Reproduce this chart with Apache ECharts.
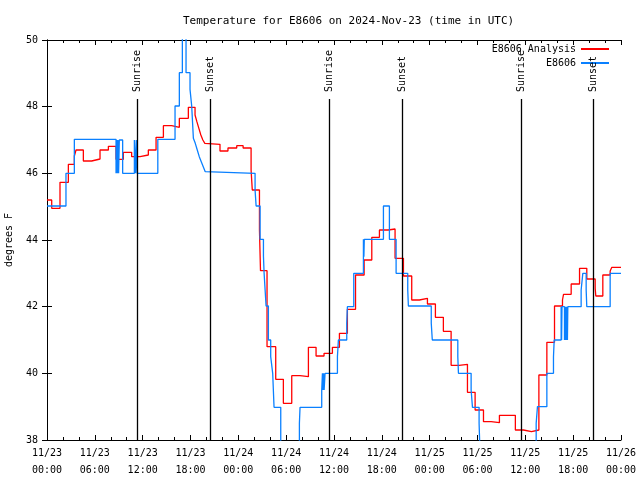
<!DOCTYPE html>
<html>
<head>
<meta charset="utf-8">
<script src="https://cdn.jsdelivr.net/npm/echarts@6/dist/echarts.min.js"></script>
<style>html,body{margin:0;padding:0;background:#fff;}#c{width:640px;height:480px;}</style>
</head>
<body>
<div id="c"></div>
<script>
// Hours since 2024-11-23 00:00 UTC
const analysisHours = [0,0.59,1.63,2.68,3.43,3.64,4.56,5.6,6.65,7.7,8.66,9.58,10.62,11.67,12.71,13.68,14.6,15.64,16.6,17.73,18.57,18.8,19.05,19.3,19.55,19.8,20.03,21.7,22.7,23.8,24.6,25.6,25.75,26.65,26.78,27.6,28.69,29.65,30.7,31.74,32.79,33.75,34.75,35.8,36.68,37.68,38.7,39.78,40.74,41.7,42.8,43.66,44.71,45.75,46.71,47.72,48.72,49.72,50.69,51.69,52.74,53.7,54.75,55.71,56.75,58.75,59.77,60.77,61.7,62.7,63.66,64.66,64.79,65.75,66.8,67.71,68.76,68.84,69.72,70.64,70.85,72];
const analysisTemps = [45.2,44.95,45.73,46.27,46.52,46.7,46.37,46.43,46.7,46.81,46.42,46.63,46.5,46.55,46.7,47.08,47.43,47.38,47.65,47.98,47.75,47.55,47.35,47.15,47.0,46.9,46.87,46.67,46.76,46.83,46.76,46.1,45.5,44.3,43.08,40.8,39.82,39.1,39.93,39.9,40.78,40.52,40.6,40.78,41.2,41.92,42.95,43.4,44.08,44.3,44.33,43.45,42.92,42.2,42.25,42.08,41.68,41.26,40.24,40.27,39.43,38.9,38.55,38.52,38.74,38.3,38.25,38.3,39.95,40.93,42.02,42.2,42.37,42.68,43.15,42.83,42.55,42.32,42.95,43.07,43.18,43.18];

const obsHours = [0,2.38,3.43,8.66,8.74,8.82,8.9,8.98,9.07,9.49,10.96,11.1,11.2,11.3,13.9,16.06,16.6,16.98,17.44,17.94,18.15,18.36,18.6,18.85,19.1,19.35,19.6,19.85,20.03,26.1,26.23,26.73,27.15,27.23,27.48,27.77,28.06,28.31,28.48,29.32,31.66,31.74,34.46,34.55,34.62,34.7,34.76,34.88,36.43,36.55,37.6,37.68,38.48,39.69,39.75,39.8,42.2,42.95,43.79,45.25,45.33,48.2,48.33,51.53,51.61,53.2,53.37,54.2,54.33,61.36,61.52,62.7,63.53,63.62,64.49,64.55,64.6,64.91,64.96,65.02,65.08,65.14,65.2,65.28,65.33,67.0,67.21,67.63,67.71,70.64,72];
const obsTemps = [45.02,46.0,47.02,46.0,47.0,46.0,47.0,46.0,47.0,46.0,47.0,46.0,47.0,46.0,47.02,48.02,49.02,51,49.02,48.52,48.02,47.05,46.9,46.7,46.5,46.35,46.2,46.05,46.0,45.5,45.02,44.02,43.52,43.02,42.02,41.0,40.5,40.0,38.98,37.5,38.5,38.98,39.5,40.0,39.5,40.0,39.5,40.0,40.5,41.0,41.5,42.0,43.0,44.02,43.5,44.02,45.02,44.02,43.0,42.5,42.02,41.5,41.0,40.5,40.0,39.5,38.98,38.5,37.5,38.5,39.0,40.0,40.5,41.0,42.0,41.0,42.0,41.0,42.0,41.0,42.0,41.0,42.0,41.0,42.0,42.5,43.0,42.5,42.0,43.0,43.0];

const sunHours = [11.32,20.52,35.4,44.57,59.5,68.58];
const sunLabels = ['Sunrise','Sunset','Sunrise','Sunset','Sunrise','Sunset'];

const dayLabels = ['11/23','11/24','11/25','11/26'];
const timeLabels = ['00:00','06:00','12:00','18:00'];

const FONT = 'DejaVu Sans Mono';
const zip = (a,b) => a.map((v,i)=>[v,b[i]]);

const lineMarks = sunHours.map(h=>[{coord:[h,38]},{coord:[h,48.23]}]);
const labelMarks = sunHours.map((h,i)=>[{coord:[h,48.35], name:sunLabels[i]},{coord:[h,49.9]}]);

const chart = echarts.init(document.getElementById('c'), null, {renderer:'canvas'});
chart.setOption({
  animation:false,
  backgroundColor:'#fff',
  title:{
    text:'Temperature for E8606 on 2024-Nov-23 (time in UTC)',
    left:178, top:11,
    textStyle:{fontFamily:FONT,fontSize:11,fontWeight:'normal',color:'#000'}
  },
  legend:{
    orient:'vertical', right:26, top:39, align:'right',
    itemWidth:28, itemHeight:2, itemGap:4,
    textStyle:{fontFamily:FONT,fontSize:10,color:'#000'},
    data:[{name:'E8606 Analysis',icon:'rect'},{name:'E8606',icon:'rect'}]
  },
  grid:{left:47,right:19,top:40,bottom:40,containLabel:false,outerBoundsMode:'none'},
  xAxis:[{
    type:'value', min:0, max:72, interval:6,
    axisLine:{show:true,lineStyle:{color:'#000',width:1}},
    axisTick:{show:true,inside:true,length:5,lineStyle:{color:'#000'}},
    minorTick:{show:true,splitNumber:3,length:3,lineStyle:{color:'#000'}},
    splitLine:{show:false},
    axisLabel:{
      fontFamily:FONT,fontSize:10,color:'#000',margin:5,lineHeight:17,
      formatter:v=>dayLabels[Math.floor(v/24)]+'\n'+timeLabels[Math.round((v%24)/6)]
    }
  },{
    type:'value', position:'top', min:0, max:72, interval:6,
    axisLine:{show:true,lineStyle:{color:'#000',width:1}},
    axisTick:{show:true,inside:true,length:5,lineStyle:{color:'#000'}},
    minorTick:{show:true,splitNumber:3,length:3,lineStyle:{color:'#000'}},
    splitLine:{show:false},
    axisLabel:{show:false}
  }],
  yAxis:[{
    type:'value', min:38, max:50, interval:2,
    name:'degrees F', nameLocation:'middle', nameGap:33,
    nameTextStyle:{fontFamily:FONT,fontSize:10,color:'#000'},
    axisLine:{show:true,lineStyle:{color:'#000',width:1}},
    axisTick:{show:true,inside:true,length:5,lineStyle:{color:'#000'}},
    splitLine:{show:false},
    axisLabel:{fontFamily:FONT,fontSize:10,color:'#000',margin:9}
  },{
    type:'value', position:'right', min:38, max:50, interval:2,
    axisLine:{show:true,lineStyle:{color:'#000',width:1}},
    axisTick:{show:true,inside:true,length:5,lineStyle:{color:'#000'}},
    splitLine:{show:false},
    axisLabel:{show:false}
  }],
  series:[{
    name:'E8606 Analysis', type:'line', step:'end', showSymbol:false, symbol:'none',
    data:zip(analysisHours,analysisTemps), clip:true,
    lineStyle:{color:'#ff0000',width:1.3}, itemStyle:{color:'#ff0000'},
    markLine:{
      silent:true, symbol:'none', animation:false,
      lineStyle:{color:'#000',width:1.3,type:'solid'},
      label:{show:false},
      data:lineMarks
    }
  },{
    name:'E8606', type:'line', step:'end', showSymbol:false, symbol:'none',
    data:zip(obsHours,obsTemps), clip:true,
    lineStyle:{color:'#0a80ff',width:1.3}, itemStyle:{color:'#0a80ff'},
    markLine:{
      silent:true, symbol:'none', animation:false,
      lineStyle:{color:'rgba(0,0,0,0)',width:0,type:'solid'},
      label:{show:true,position:'insideStart',distance:3,formatter:p=>p.name,
        fontFamily:FONT,fontSize:10,color:'#000'},
      data:labelMarks
    }
  }]
});
</script>
</body>
</html>
